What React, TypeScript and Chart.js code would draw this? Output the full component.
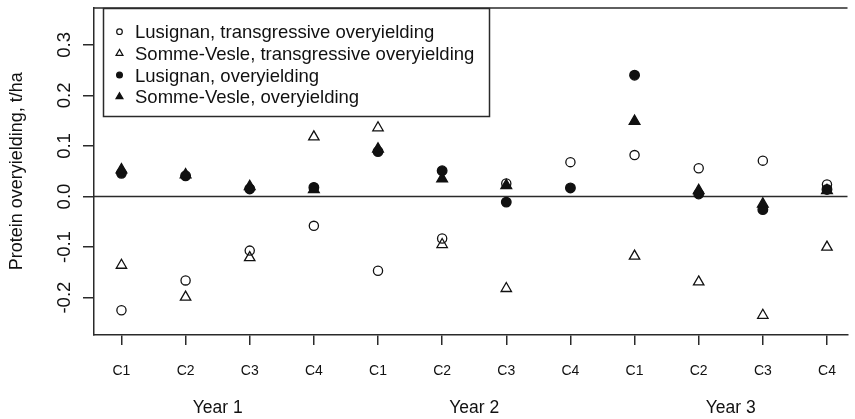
import React, { useEffect, useRef } from "react";
import { Chart, registerables } from "chart.js";

Chart.register(...registerables);

// ---- data ----
const categories = ["C1", "C2", "C3", "C4", "C1", "C2", "C3", "C4", "C1", "C2", "C3", "C4"];
const years = ["Year 1", "Year 2", "Year 3"];
const yTicks = [-0.2, -0.1, 0.0, 0.1, 0.2, 0.3];
const seriesNames = [
  "Lusignan, transgressive overyielding",
  "Somme-Vesle, transgressive overyielding",
  "Lusignan, overyielding",
  "Somme-Vesle, overyielding",
];
const lusignanTransgressive = [-0.225, -0.166, -0.107, -0.058, -0.147, -0.083, 0.026, 0.068, 0.082, 0.056, 0.071, 0.024];
const sommeVesleTransgressive = [-0.136, -0.199, -0.121, 0.118, 0.136, -0.095, -0.182, null, -0.118, -0.169, -0.235, -0.1];
const lusignanOver = [0.046, 0.041, 0.015, 0.018, 0.089, 0.051, -0.011, 0.017, 0.24, 0.005, -0.026, 0.014];
const sommeVesleOver = [0.053, 0.043, 0.02, 0.014, 0.094, 0.035, 0.022, null, 0.149, 0.012, -0.015, 0.012];

const FONT = '"Liberation Sans", Arial, sans-serif';
const INK = "#111";
const LINE = "#2a2a2a";

type Sym = { style: string; filled: boolean; r: number; lr: number };
const symbols: Sym[] = [
  { style: "circle", filled: false, r: 4.6, lr: 2.8 },
  { style: "triangle", filled: false, r: 6, lr: 4 },
  { style: "circle", filled: true, r: 4.8, lr: 2.9 },
  { style: "triangle", filled: true, r: 6.2, lr: 4 },
];

function toPoints(vals: (number | null)[]) {
  return vals
    .map((v, i) => ({ x: i + 1, y: v }))
    .filter((p) => p.y !== null) as { x: number; y: number }[];
}

function drawSymbol(ctx: CanvasRenderingContext2D, s: Sym, x: number, y: number) {
  ctx.beginPath();
  if (s.style === "circle") {
    ctx.arc(x, y, s.lr, 0, Math.PI * 2);
  } else {
    const r = s.lr;
    ctx.moveTo(x, y - r);
    ctx.lineTo(x + r * Math.sin((2 * Math.PI) / 3), y - r * Math.cos((2 * Math.PI) / 3));
    ctx.lineTo(x + r * Math.sin((4 * Math.PI) / 3), y - r * Math.cos((4 * Math.PI) / 3));
    ctx.closePath();
  }
  if (s.filled) {
    ctx.fillStyle = INK;
    ctx.fill();
  }
  ctx.strokeStyle = INK;
  ctx.lineWidth = 1.2;
  ctx.stroke();
}

const overlay = {
  id: "overlay",
  beforeDatasetsDraw(chart: any) {
    const { ctx, chartArea: a, scales } = chart;
    const y = scales.y;
    ctx.save();
    ctx.strokeStyle = LINE;
    ctx.lineWidth = 1.5;
    const y0 = y.getPixelForValue(0);
    ctx.beginPath();
    ctx.moveTo(a.left, y0);
    ctx.lineTo(a.right, y0);
    ctx.stroke();
    ctx.beginPath();
    ctx.moveTo(a.left, a.top + 0.5);
    ctx.lineTo(a.right, a.top + 0.5);
    ctx.stroke();
    ctx.restore();
  },
  afterDraw(chart: any) {
    const { ctx, chartArea: a, scales } = chart;
    const x = scales.x;
    const y = scales.y;
    ctx.save();
    ctx.fillStyle = INK;

    // y tick labels (rotated)
    ctx.font = `18.5px ${FONT}`;
    ctx.textAlign = "center";
    ctx.textBaseline = "alphabetic";
    yTicks.forEach((v) => {
      ctx.save();
      ctx.translate(69.5, y.getPixelForValue(v));
      ctx.rotate(-Math.PI / 2);
      ctx.fillText(v.toFixed(1), 0, 0);
      ctx.restore();
    });

    // y title
    ctx.save();
    ctx.font = `18px ${FONT}`;
    ctx.translate(21.5, (a.top + a.bottom) / 2);
    ctx.rotate(-Math.PI / 2);
    ctx.fillText("Protein overyielding, t/ha", 0, 0);
    ctx.restore();

    // x category labels
    ctx.font = `14px ${FONT}`;
    categories.forEach((c, i) => {
      ctx.fillText(c, x.getPixelForValue(i + 1), 374.5);
    });

    // year labels
    ctx.font = `17.5px ${FONT}`;
    years.forEach((yr, k) => {
      ctx.fillText(yr, x.getPixelForValue(4 * k + 2.5), 413);
    });

    // legend
    const bx = 103.5, by = 8.5, bw = 386, bh = 108;
    ctx.fillStyle = "#fff";
    ctx.fillRect(bx, by, bw, bh);
    ctx.strokeStyle = LINE;
    ctx.lineWidth = 1.5;
    ctx.strokeRect(bx, by, bw, bh);
    ctx.font = `18.5px ${FONT}`;
    ctx.textAlign = "left";
    seriesNames.forEach((name, i) => {
      const base = 38.3 + i * 21.67;
      const mid = base - 6.6;
      drawSymbol(ctx, symbols[i], 119.5, mid);
      ctx.fillStyle = INK;
      ctx.fillText(name, 135, base);
    });
    ctx.restore();
  },
};

export default function App() {
  const ref = useRef<HTMLCanvasElement | null>(null);

  useEffect(() => {
    if (!ref.current) return;
    const seriesValues = [lusignanTransgressive, sommeVesleTransgressive, lusignanOver, sommeVesleOver];
    const datasets = seriesValues.map((vals, i) => {
      const s = symbols[i];
      return {
        label: seriesNames[i],
        data: toPoints(vals),
        pointStyle: s.style,
        pointRadius: s.r,
        pointBorderWidth: 1.3,
        pointBorderColor: INK,
        pointBackgroundColor: s.filled ? INK : "rgba(0,0,0,0)",
        borderColor: INK,
        backgroundColor: s.filled ? INK : "rgba(0,0,0,0)",
        showLine: false,
        order: 4 - i,
      };
    });

    const chart = new Chart(ref.current, {
      type: "scatter",
      data: { datasets },
      options: {
        animation: false,
        responsive: false,
        devicePixelRatio: 1,
        layout: { padding: { top: 7, left: 0, right: 0, bottom: 0 } },
        plugins: { legend: { display: false }, tooltip: { enabled: false } },
        events: [],
        scales: {
          x: {
            type: "linear",
            min: 0.572,
            max: 12.32,
            afterBuildTicks: (s: any) => {
              s.ticks = categories.map((_, i) => ({ value: i + 1 }));
            },
            afterFit: (s: any) => {
              s.height = 84;
            },
            ticks: { display: false },
            grid: { drawOnChartArea: false, drawTicks: true, tickLength: 10, color: LINE, lineWidth: 1.5 },
            border: { display: true, color: LINE, width: 1.5 },
          },
          y: {
            type: "linear",
            min: -0.274,
            max: 0.374,
            afterBuildTicks: (s: any) => {
              s.ticks = yTicks.map((v) => ({ value: v }));
            },
            afterFit: (s: any) => {
              s.width = 94;
            },
            ticks: { display: false },
            grid: { drawOnChartArea: false, drawTicks: true, tickLength: 11, color: LINE, lineWidth: 1.5 },
            border: { display: true, color: LINE, width: 1.5 },
          },
        },
      } as any,
      plugins: [overlay],
    });
    return () => chart.destroy();
  }, []);

  return (
    <div style={{ position: "absolute", left: 0, top: 0, width: 855, height: 419, background: "#fff" }}>
      <canvas ref={ref} width={855} height={419} style={{ display: "block" }} />
    </div>
  );
}
